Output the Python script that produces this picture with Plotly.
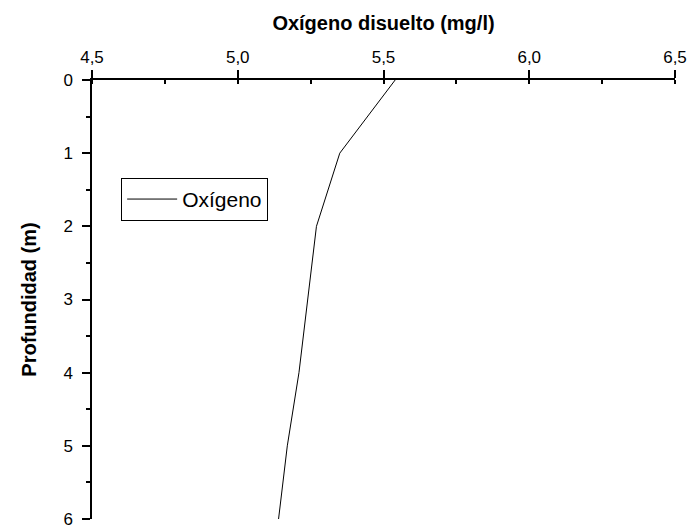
import plotly.graph_objects as go

# Data
depth_m = [0, 1, 2, 3, 4, 5, 6]
oxygen_mg_l = [5.54, 5.35, 5.27, 5.24, 5.21, 5.17, 5.14]
x_ticks = [4.5, 5.0, 5.5, 6.0, 6.5]
x_tick_labels = ["4,5", "5,0", "5,5", "6,0", "6,5"]
y_ticks = [0, 1, 2, 3, 4, 5, 6]
series_name = "Oxígeno"
x_title = "Oxígeno disuelto (mg/l)"
y_title = "Profundidad (m)"

FONT = "Liberation Sans, Arial, sans-serif"

fig = go.Figure()
fig.add_trace(go.Scatter(
    x=oxygen_mg_l, y=depth_m, mode="lines", name=series_name,
    line=dict(color="black", width=1),
))

fig.update_layout(
    width=691, height=528,
    margin=dict(l=92, r=16, t=80, b=9, pad=0),
    paper_bgcolor="white", plot_bgcolor="white",
    font=dict(family=FONT, color="black", size=17),
    showlegend=True,
    legend=dict(
        x=0.05, y=0.777, xanchor="left", yanchor="top",
        bgcolor="white", bordercolor="black", borderwidth=1,
        itemwidth=50,
        font=dict(family=FONT, size=21, color="black"),
    ),
)

fig.update_xaxes(
    side="top", range=[4.5, 6.5],
    tickmode="array", tickvals=x_ticks, ticktext=x_tick_labels,
    showline=True, linecolor="black", linewidth=1.5,
    ticks="outside", ticklen=8, tickwidth=1.5, tickcolor="black",
    minor=dict(dtick=0.25, tick0=4.5, ticks="inside", ticklen=4, tickwidth=1.5, tickcolor="black", showgrid=False),
    showgrid=False, zeroline=False, automargin=False,
    ticklabeloverflow="allow",
    tickfont=dict(family=FONT, size=17, color="black"),
    title=dict(text="<b>" + x_title + "</b>", font=dict(family=FONT, size=20, color="black"), standoff=12),
)
fig.update_yaxes(
    range=[6, 0],
    tickmode="array", tickvals=y_ticks,
    showline=True, linecolor="black", linewidth=1.5,
    ticks="outside", ticklen=8, tickwidth=1.5, tickcolor="black",
    minor=dict(dtick=0.5, tick0=0, ticks="outside", ticklen=4, tickwidth=1.5, tickcolor="black", showgrid=False),
    showgrid=False, zeroline=False, automargin=False,
    ticklabeloverflow="allow", ticklabelstandoff=6,
    tickfont=dict(family=FONT, size=17, color="black"),
    title=dict(text="<b>" + y_title + "</b>", font=dict(family=FONT, size=20, color="black"), standoff=21),
)

fig.write_html("out.html")
